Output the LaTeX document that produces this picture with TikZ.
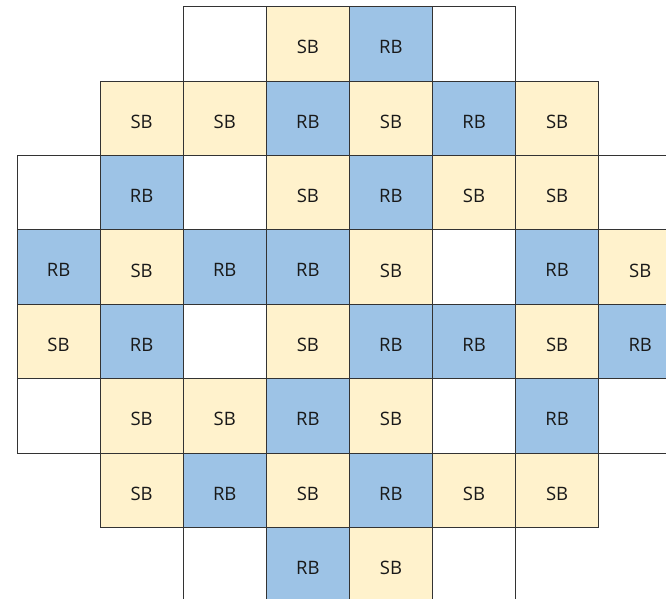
\documentclass[tikz,border=0pt]{standalone}
\usepackage{fontspec}
\setmainfont{Open Sans}
\definecolor{sbfill}{HTML}{FFF2CC}
\definecolor{rbfill}{HTML}{9DC3E6}
\definecolor{gridline}{HTML}{333333}
\tikzset{
  cell/.style={draw=gridline, line width=0.9pt, minimum width=83.1pt, minimum height=74.4pt, inner sep=0pt, font=\fontsize{18.5}{21}\selectfont, text=black!90},
  W/.style={cell, fill=white},
  S/.style={cell, fill=sbfill},
  R/.style={cell, fill=rbfill},
}
\def\wcode{W}
\begin{document}
\begin{tikzpicture}[x=1pt,y=-1pt]
\useasboundingbox (0,0) rectangle (666,599);
\clip (0,0) rectangle (666,599);
\foreach \c/\r/\t in {
  2/0/W,3/0/S,4/0/R,5/0/W,
  1/1/S,2/1/S,3/1/R,4/1/S,5/1/R,6/1/S,
  0/2/W,1/2/R,2/2/W,3/2/S,4/2/R,5/2/S,6/2/S,7/2/W,
  0/3/R,1/3/S,2/3/R,3/3/R,4/3/S,5/3/W,6/3/R,7/3/S,
  0/4/S,1/4/R,2/4/W,3/4/S,4/4/R,5/4/R,6/4/S,7/4/R,
  0/5/W,1/5/S,2/5/S,3/5/R,4/5/S,5/5/W,6/5/R,7/5/W,
  1/6/S,2/6/R,3/6/S,4/6/R,5/6/S,6/6/S,
  2/7/W,3/7/R,4/7/S,5/7/W}{
  \pgfmathsetmacro{\px}{17+83.1*\c+41.55}
  \pgfmathsetmacro{\py}{6.7+74.4*\r+37.2}
  \ifx\t\wcode
    \node[W] (c\c\r) at (\px,\py) {};
  \else
    \node[\t] (c\c\r) at (\px,\py) {\raisebox{-3.2pt}[\height][0pt]{\t B}};
  \fi
}
\end{tikzpicture}
\end{document}
